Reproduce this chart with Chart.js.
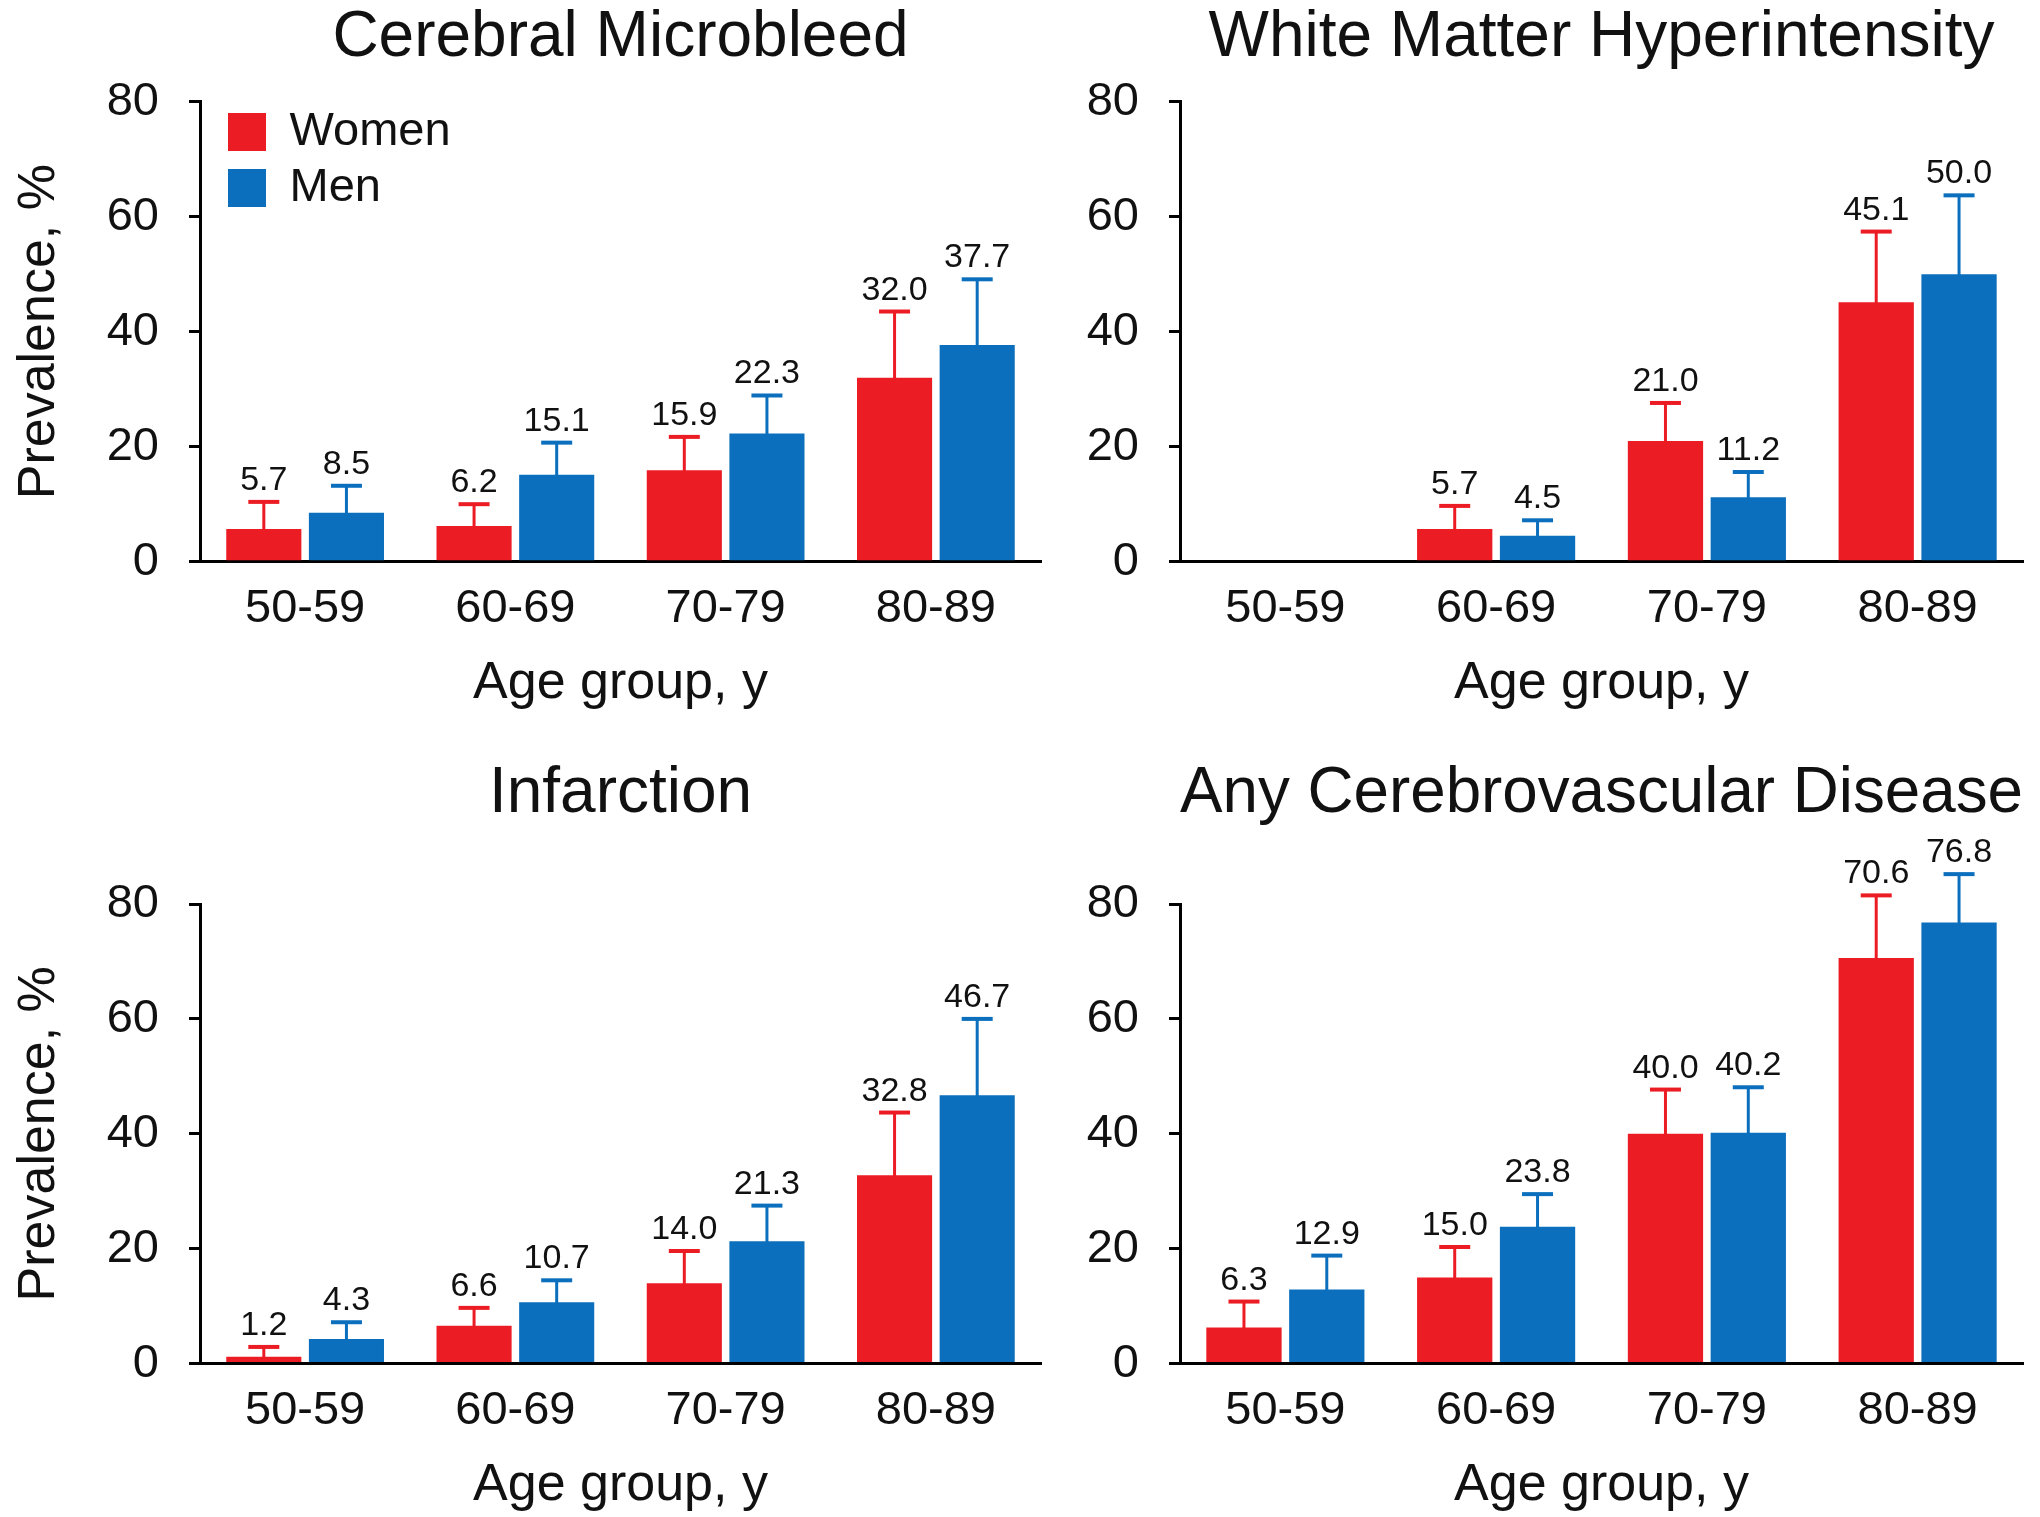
<!DOCTYPE html>
<html>
<head>
<meta charset="utf-8">
<title>Prevalence by age group</title>
<script src="https://cdn.jsdelivr.net/npm/chart.js@4.4.0/dist/chart.umd.min.js"></script>
<style>
  html, body { margin: 0; padding: 0; background: #fff; }
  #wrap { position: relative; width: 2040px; height: 1517px; overflow: hidden; }
  canvas { position: absolute; }
</style>
</head>
<body>
<div id="wrap">
  <canvas id="cmb" width="1045" height="717" style="left:0;top:0"></canvas>
  <canvas id="wmh" width="995" height="717" style="left:1045px;top:0"></canvas>
  <canvas id="inf" width="1045" height="800" style="left:0;top:717px"></canvas>
  <canvas id="cvd" width="995" height="800" style="left:1045px;top:717px"></canvas>
</div>
<script>
// data
const ageGroups = ['50-59', '60-69', '70-79', '80-89'];
const yTicks = [0, 20, 40, 60, 80];

const microbleedWomen = [5.7, 6.2, 15.9, 32.0];
const microbleedMen = [8.5, 15.1, 22.3, 37.7];
const microbleedWomenUpper = [10.4, 10.0, 21.7, 43.5];
const microbleedMenUpper = [13.2, 20.7, 28.9, 49.1];

const wmhWomen = [null, 5.7, 21.0, 45.1];
const wmhMen = [null, 4.5, 11.2, 50.0];
const wmhWomenUpper = [null, 9.7, 27.6, 57.4];
const wmhMenUpper = [null, 7.2, 15.6, 63.7];

const infarctWomen = [1.2, 6.6, 14.0, 32.8];
const infarctMen = [4.3, 10.7, 21.3, 46.7];
const infarctWomenUpper = [2.9, 9.7, 19.6, 43.7];
const infarctMenUpper = [7.2, 14.5, 27.5, 60.0];

const anyWomen = [6.3, 15.0, 40.0, 70.6];
const anyMen = [12.9, 23.8, 40.2, 76.8];
const anyWomenUpper = [10.8, 20.3, 47.7, 81.5];
const anyMenUpper = [18.8, 29.5, 48.1, 85.2];

const RED = '#ec1c24';
const BLUE = '#0b6fbd';
const INK = '#111111';

Chart.defaults.font.family = "'Liberation Sans', Arial, Helvetica, sans-serif";
Chart.defaults.color = INK;

// upper error bars + value labels
const errorBars = {
    id: 'errorBars',
    afterDatasetsDraw(chart) {
        const ctx = chart.ctx;
        const y = chart.scales.y;
        chart.data.datasets.forEach((ds, i) => {
            const meta = chart.getDatasetMeta(i);
            meta.data.forEach((bar, j) => {
                const v = ds.data[j];
                const hi = ds.upper[j];
                if (v == null || hi == null) return;
                const yTop = y.getPixelForValue(hi);
                ctx.save();
                ctx.strokeStyle = ds.backgroundColor;
                ctx.lineWidth = 3;
                ctx.beginPath();
                ctx.moveTo(bar.x, bar.y + 2);
                ctx.lineTo(bar.x, yTop);
                ctx.stroke();
                ctx.lineWidth = 4;
                ctx.beginPath();
                ctx.moveTo(bar.x - 15.5, yTop);
                ctx.lineTo(bar.x + 15.5, yTop);
                ctx.stroke();
                ctx.fillStyle = INK;
                ctx.font = "34px 'Liberation Sans', Arial, sans-serif";
                ctx.textAlign = 'center';
                ctx.textBaseline = 'alphabetic';
                ctx.fillText(v.toFixed(1), bar.x, yTop - 12);
                ctx.restore();
            });
        });
    }
};

// put the legend inside the plot, top-left corner
const legendNudge = {
    id: 'legendNudge',
    afterLayout(chart) {
        const lg = chart.legend;
        if (chart.options.plugins.legend.display && lg) {
            lg.left = chart.chartArea.left + 19;
            lg.top = chart.chartArea.top - 2;
            lg.bottom = lg.top + lg.height;
        }
    }
};

function makePanel(id, title, women, men, womenUpper, menUpper, p) {
    const ctx = document.getElementById(id).getContext('2d');
    return new Chart(ctx, {
        type: 'bar',
        data: {
            labels: ageGroups,
            datasets: [
                { label: 'Women', data: women, upper: womenUpper, backgroundColor: RED, borderWidth: 0 },
                { label: 'Men', data: men, upper: menUpper, backgroundColor: BLUE, borderWidth: 0 }
            ]
        },
        options: {
            responsive: false,
            animation: false,
            events: [],
            categoryPercentage: 0.786,
            barPercentage: 0.909,
            layout: { padding: { left: 0, top: 0, right: p.padRight, bottom: 0 } },
            plugins: {
                title: {
                    display: true,
                    text: title,
                    fullSize: false,
                    color: INK,
                    font: { size: 64, weight: 'normal' },
                    padding: { top: p.titleTop, bottom: p.titleBottom }
                },
                legend: {
                    display: p.legend,
                    position: 'chartArea',
                    align: 'start',
                    labels: {
                        boxWidth: 38,
                        boxHeight: 38,
                        padding: 9,
                        color: INK,
                        font: { size: 47 }
                    }
                },
                tooltip: { enabled: false }
            },
            scales: {
                x: {
                    grid: { display: false },
                    border: { display: true, color: '#000', width: 3 },
                    ticks: { font: { size: 47 }, color: INK, padding: 11, maxRotation: 0, autoSkip: false },
                    title: {
                        display: true,
                        text: 'Age group, y',
                        color: INK,
                        font: { size: 52 },
                        padding: { top: 0, bottom: p.xTitleBottom }
                    },
                    afterFit: (scale) => { scale.height = p.xHeight; }
                },
                y: {
                    min: yTicks[0],
                    max: yTicks[yTicks.length - 1],
                    afterBuildTicks: (scale) => { scale.ticks = yTicks.map(v => ({ value: v })); },
                    grid: {
                        drawOnChartArea: false,
                        drawTicks: true,
                        tickLength: 11,
                        lineWidth: 3,
                        color: '#000'
                    },
                    border: { display: true, color: '#000', width: 3 },
                    ticks: { font: { size: 47 }, color: INK, padding: 30 },
                    title: {
                        display: p.yTitle,
                        text: 'Prevalence, %',
                        color: INK,
                        font: { size: 52 },
                        padding: { top: 8.8, bottom: 0 }
                    },
                    afterFit: (scale) => { scale.width = p.yWidth; }
                }
            }
        },
        plugins: [errorBars, legendNudge]
    });
}

const topRow = { titleTop: 0, titleBottom: 24.8, xHeight: 717 - 561.7, xTitleBottom: 2.5 };
const bottomRow = { titleTop: 38.6, titleBottom: 71.6, xHeight: 800 - 646.6, xTitleBottom: 0.5 };
const leftCol = { yWidth: 200, padRight: 4, yTitle: true };
const rightCol = { yWidth: 135, padRight: 17, yTitle: false };

makePanel('cmb', 'Cerebral Microbleed', microbleedWomen, microbleedMen,
    microbleedWomenUpper, microbleedMenUpper, { ...topRow, ...leftCol, legend: true });
makePanel('wmh', 'White Matter Hyperintensity', wmhWomen, wmhMen,
    wmhWomenUpper, wmhMenUpper, { ...topRow, ...rightCol, legend: false });
makePanel('inf', 'Infarction', infarctWomen, infarctMen,
    infarctWomenUpper, infarctMenUpper, { ...bottomRow, ...leftCol, legend: false });
makePanel('cvd', 'Any Cerebrovascular Disease', anyWomen, anyMen,
    anyWomenUpper, anyMenUpper, { ...bottomRow, ...rightCol, legend: false });
</script>
</body>
</html>
